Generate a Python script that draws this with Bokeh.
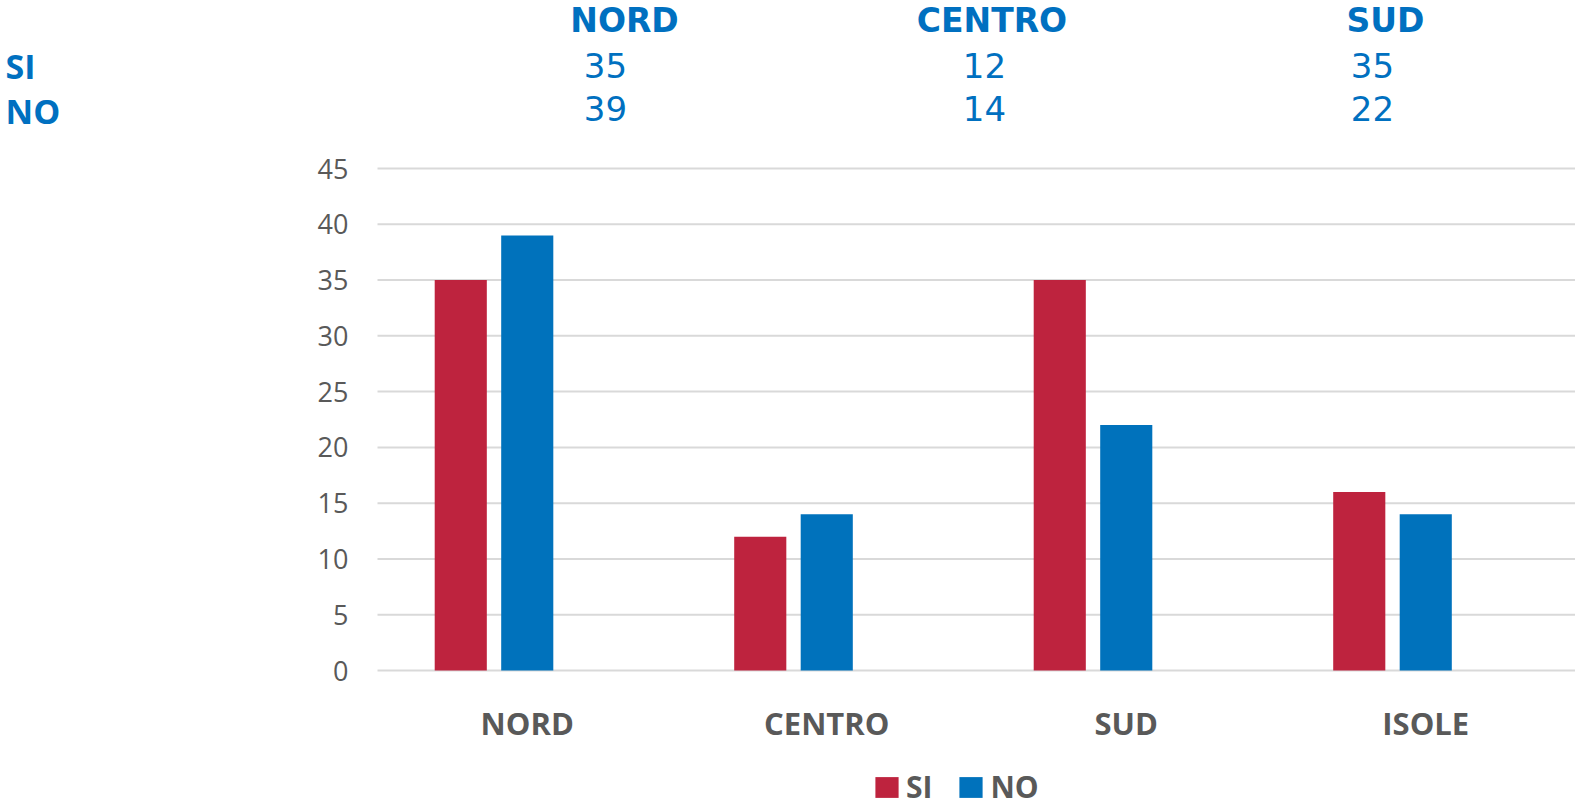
from bokeh.plotting import figure
from bokeh.models import (Range1d, FixedTicker, Legend, LegendItem, LinearAxis,
                          ColumnDataSource)
from bokeh.transform import dodge
from bokeh.core.properties import value
from bokeh.embed import file_html
from bokeh.resources import INLINE

# ---- data ----
categories = ["NORD", "CENTRO", "SUD", "ISOLE"]
si_values = [35, 12, 35, 16]
no_values = [39, 14, 22, 14]
y_ticks = [0, 5, 10, 15, 20, 25, 30, 35, 40, 45]
series_names = ["SI", "NO"]

# ---- style / layout ----
RED = "#BE233E"
BLUE = "#0072BC"
TABLE_BLUE = "#0070C0"
GREY = "#595959"
GRID = "#D9D9D9"

W, H = 1575, 807
PLOT_LEFT = 377          # left edge of the category area (px)
Y_TOP_PX, Y0_PX = 168, 670   # pixel rows of y=45 and y=0
n = len(categories)
cat_w = (W - PLOT_LEFT) / n
px_per_unit = (Y0_PX - Y_TOP_PX) / y_ticks[-1]

x_range = Range1d(-PLOT_LEFT / cat_w, n)
y_range = Range1d(-(H - Y0_PX) / px_per_unit, y_ticks[-1] + Y_TOP_PX / px_per_unit)

p = figure(width=W, height=H, output_backend="svg", toolbar_location=None,
           x_range=x_range, y_range=y_range, x_axis_type=None, y_axis_type=None,
           min_border=0, min_border_left=0, min_border_right=0,
           min_border_top=0, min_border_bottom=0)
p.outline_line_color = None
p.grid.visible = False
p.extra_x_ranges = {"px": Range1d(0, W)}
p.extra_y_ranges = {"px": Range1d(H, 0)}

cat_pos = [i + 0.5 for i in range(n)]
source = ColumnDataSource(dict(x=cat_pos, cat=categories, si=si_values, no=no_values))

# horizontal gridlines over the category area
p.segment(x0=[0] * len(y_ticks), x1=[n] * len(y_ticks), y0=y_ticks, y1=y_ticks,
          line_color=GRID, line_width=2)

r_si = p.vbar(x=dodge("x", -0.222), top="si", width=0.174, source=source,
              fill_color=RED, line_color=None)
r_no = p.vbar(x=dodge("x", 0.0), top="no", width=0.174, source=source,
              fill_color=BLUE, line_color=None)

# y axis drawn at the left edge of the category area
yaxis = LinearAxis(fixed_location=0, ticker=FixedTicker(ticks=y_ticks))
yaxis.axis_line_color = None
yaxis.major_tick_line_color = None
yaxis.minor_tick_line_color = None
yaxis.major_tick_out = 0
yaxis.major_tick_in = 0
yaxis.major_label_text_font = "Open Sans"
yaxis.major_label_text_font_size = "27px"
yaxis.major_label_text_color = GREY
yaxis.major_label_standoff = 29
p.add_layout(yaxis, "left")

# category axis drawn at y = 0
xaxis = LinearAxis(fixed_location=0, ticker=FixedTicker(ticks=cat_pos),
                   major_label_overrides={pos: name for pos, name in zip(cat_pos, categories)})
xaxis.axis_line_color = None
xaxis.major_tick_line_color = None
xaxis.minor_tick_line_color = None
xaxis.major_tick_out = 0
xaxis.major_tick_in = 0
xaxis.major_label_text_font = "Open Sans"
xaxis.major_label_text_font_style = "bold"
xaxis.major_label_text_font_size = "31px"
xaxis.major_label_text_color = GREY
xaxis.major_label_standoff = 31
p.add_layout(xaxis, "below")

# ---- table above the chart (pixel coordinates of the layout) ----
header_x = [624, 991.5, 1385]
header_y = [20, 20, 20]
number_x = [605, 984, 1372]
number_y = [65, 108]
row_label_x = [5, 5]
row_label_y = [65, 110]

p.text(x=header_x, y=header_y, text=categories[:3], text_align="center",
       text_baseline="alphabetic", text_font=value("DejaVu Sans"),
       text_font_style="bold", text_font_size="33px", text_color=TABLE_BLUE,
       x_range_name="px", y_range_name="px")
p.text(x=row_label_x, y=row_label_y, text=series_names, text_align="left",
       text_baseline="alphabetic", text_font=value("Open Sans"),
       text_font_style="bold", text_font_size="34px", text_color=TABLE_BLUE,
       x_range_name="px", y_range_name="px")
for vals, yy in zip([si_values, no_values], number_y):
    p.text(x=number_x, y=[yy] * 3, text=[str(v) for v in vals[:3]],
           text_align="center", text_baseline="alphabetic",
           text_font=value("DejaVu Sans"), text_font_size="34px",
           text_color=TABLE_BLUE, x_range_name="px", y_range_name="px")

# ---- legend ----
legend = Legend(items=[LegendItem(label=series_names[0], renderers=[r_si]),
                       LegendItem(label=series_names[1], renderers=[r_no])],
                orientation="horizontal", location=(872, 0),
                glyph_width=29, glyph_height=26, label_standoff=5, spacing=24,
                padding=0, margin=0, border_line_color=None,
                background_fill_alpha=0,
                label_text_font="Open Sans", label_text_font_style="bold",
                label_text_font_size="30px", label_text_color=GREY,
                label_height=21)
p.add_layout(legend, "center")

open("out.html", "w").write(file_html(p, INLINE))
